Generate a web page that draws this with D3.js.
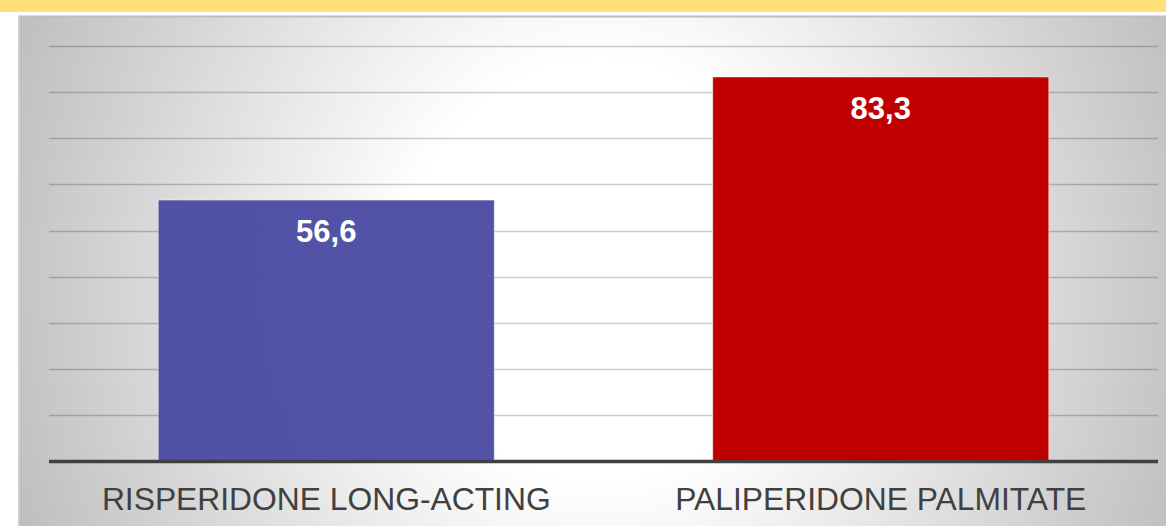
<!DOCTYPE html>
<html><head><meta charset="utf-8">
<script src="https://cdn.jsdelivr.net/npm/d3@7"></script>
<style>html,body{margin:0;padding:0;background:#fff;overflow:hidden}</style>
</head><body>
<svg id="chart" width="1166" height="526"></svg>
<script>
const categories = ["RISPERIDONE LONG-ACTING", "PALIPERIDONE PALMITATE"];
const values = [56.6, 83.3];
const valueLabels = ["56,6", "83,3"];
const barColors = ["#4b4ca3", "#c00000"];
const gridTicks = [10, 20, 30, 40, 50, 60, 70, 80, 90];

const W = 1166, H = 526;
const svg = d3.select("#chart");
const defs = svg.append("defs");

const grad = defs.append("radialGradient").attr("id", "bg")
  .attr("gradientUnits", "userSpaceOnUse")
  .attr("cx", 600).attr("cy", 270).attr("r", 640)
  .attr("gradientTransform", "translate(600,270) scale(1,1.09) translate(-600,-270)");
grad.append("stop").attr("offset", "0").attr("stop-color", "#ffffff");
grad.append("stop").attr("offset", "0.3").attr("stop-color", "#ffffff");
grad.append("stop").attr("offset", "1").attr("stop-color", "#bcbcbc");

// top yellow band
svg.append("rect").attr("x", 0).attr("y", 0).attr("width", W).attr("height", 12).attr("fill", "#ffdf7a");

// panel
svg.append("rect").attr("x", 18).attr("y", 16).attr("width", W - 18).attr("height", H - 16).attr("fill", "url(#bg)");
svg.append("line").attr("x1", 18).attr("x2", W).attr("y1", 16.5).attr("y2", 16.5).attr("stroke", "#bdbdbd").attr("stroke-width", 2);
svg.append("line").attr("x1", 19).attr("x2", 19).attr("y1", 16).attr("y2", H).attr("stroke", "#dcdcdc").attr("stroke-width", 1);

const x0 = 49, x1 = 1158, yBase = 461;
const x = d3.scaleBand().domain(categories).range([x0, x1]).paddingInner(0.394).paddingOuter(0.197);
const y = d3.scaleLinear().domain([0, 100]).range([yBase, 0]);

// gridlines
svg.append("g").selectAll("line").data(gridTicks).join("line")
  .attr("x1", x0).attr("x2", x1)
  .attr("y1", d => Math.round(y(d)) + 0.5).attr("y2", d => Math.round(y(d)) + 0.5)
  .attr("stroke", "rgba(0,0,0,0.2)").attr("stroke-width", 1.6);

// bars
svg.append("g").selectAll("rect").data(values).join("rect")
  .attr("x", (d, i) => x(categories[i]))
  .attr("y", d => y(d))
  .attr("width", x.bandwidth())
  .attr("height", d => yBase - y(d))
  .attr("fill", (d, i) => barColors[i])
  .attr("fill-opacity", (d, i) => i === 0 ? 0.96 : 1)
  .attr("stroke", "rgba(255,255,255,0.45)").attr("stroke-width", 1);

// value labels
svg.append("g").selectAll("text").data(values).join("text")
  .attr("x", (d, i) => x(categories[i]) + x.bandwidth() / 2)
  .attr("y", d => y(d) + 42)
  .attr("text-anchor", "middle")
  .attr("font-family", "'Liberation Sans', Arial, sans-serif")
  .attr("font-weight", "bold").attr("font-size", 31)
  .attr("fill", "#ffffff")
  .text((d, i) => valueLabels[i]);

// axis line
const xAxis = d3.axisBottom(x).tickSize(0).tickPadding(0);
const ax = svg.append("g").attr("transform", `translate(0,${yBase})`).call(xAxis);
ax.select(".domain").attr("stroke", "#404040").attr("stroke-width", 3.5)
  .attr("d", `M${x0},0.5H${x1}`);
ax.selectAll(".tick text")
  .attr("y", 49).attr("dy", 0)
  .attr("font-family", "'Liberation Sans', Arial, sans-serif")
  .attr("font-size", 31.8).attr("fill", "#404040");
</script>
</body></html>
